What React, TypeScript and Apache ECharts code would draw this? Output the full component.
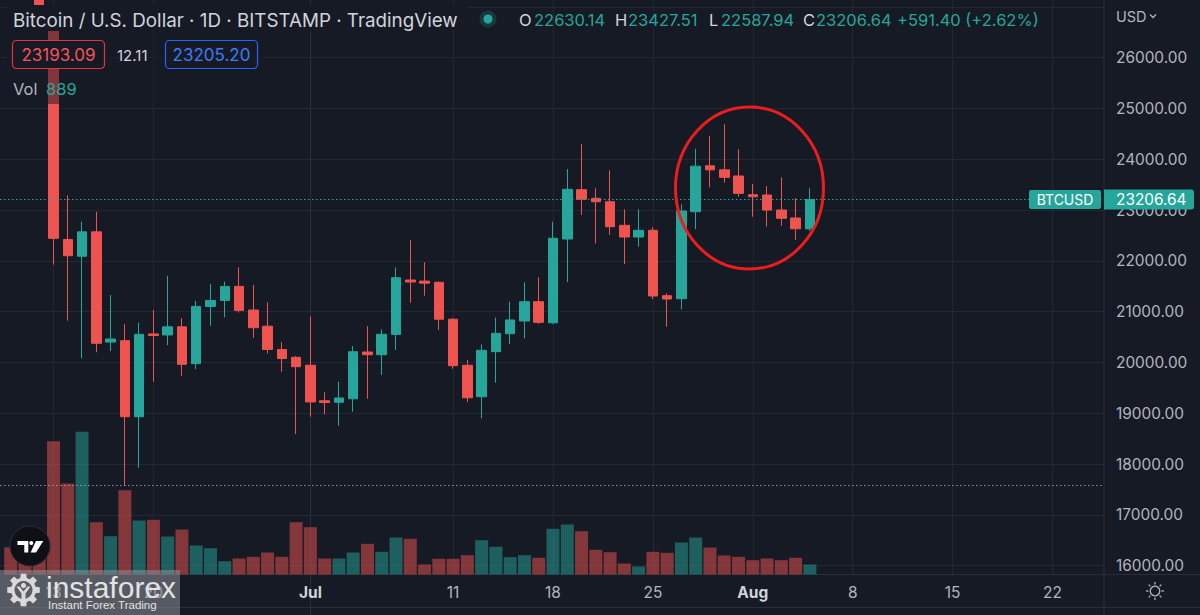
import React, { useEffect, useRef } from 'react';
import * as echarts from 'echarts';

const BG = '#161a25';
const GRID = '#232733';
const UP = '#26a69a';
const DOWN = '#ef5350';
const AXIS_TXT = '#b2b5be';
const FONT = 'Inter, Roboto, sans-serif';

// Daily BTC/USD candles (month-day, 2022)
const dates = [
  '06-10', '06-11', '06-12', '06-13', '06-14', '06-15', '06-16', '06-17', '06-18', '06-19',
  '06-20', '06-21', '06-22', '06-23', '06-24', '06-25', '06-26', '06-27', '06-28', '06-29',
  '06-30', '07-01', '07-02', '07-03', '07-04', '07-05', '07-06', '07-07', '07-08', '07-09',
  '07-10', '07-11', '07-12', '07-13', '07-14', '07-15', '07-16', '07-17', '07-18', '07-19',
  '07-20', '07-21', '07-22', '07-23', '07-24', '07-25', '07-26', '07-27', '07-28', '07-29',
  '07-30', '07-31', '08-01', '08-02', '08-03', '08-04', '08-05',
];
const opens = [
  30100, 29080, 28400, 26574, 22420, 22090, 22570, 20400, 20427, 18931,
  20560, 20540, 20700, 19975, 21100, 21220, 21496, 21031, 20713, 20254,
  20100, 19945, 19245, 19215, 19284, 20205, 20152, 20550, 21622, 21600,
  21577, 20850, 19943, 19325, 20211, 20565, 20815, 21195, 20780, 22429,
  23400, 23230, 23163, 22698, 22468, 22600, 21313, 21254, 22967, 23870,
  23790, 23669, 23300, 23295, 23000, 22843, 22630.14,
];
const closes = [
  29080, 28400, 26574, 22443, 22100, 22570, 20376, 20460, 18931, 20552,
  20530, 20700, 19962, 21103, 21220, 21496, 21024, 20683, 20254, 20077,
  19916, 19222, 19210, 19300, 20210, 20152, 20553, 21667, 21583, 21560,
  20850, 19935, 19303, 20238, 20572, 20835, 21195, 20789, 22443, 23407,
  23211, 23163, 22671, 22468, 22600, 21307, 21248, 22980, 23862, 23790,
  23643, 23328, 23260, 23000, 22837, 22630.14, 23206.64,
];
const lows = [
  28850, 28100, 26560, 21925, 20822, 20081, 20200, 20224, 17575, 17927,
  19620, 20339, 19738, 19870, 20722, 20888, 20980, 20486, 20175, 19816,
  18590, 18931, 18976, 18754, 19030, 19284, 19752, 20244, 21175, 21313,
  20638, 19876, 19222, 18899, 19600, 20362, 20474, 20756, 20756, 21580,
  22902, 22344, 22508, 21937, 22278, 21248, 20703, 21043, 22620, 23447,
  23537, 23261, 22868, 22672, 22691, 22410, 22587.94,
];
const highs = [
  30350, 29440, 28550, 26880, 23290, 22770, 22967, 21325, 20756, 20782,
  21031, 21707, 20867, 21212, 21543, 21590, 21872, 21524, 21181, 20396,
  20126, 20900, 19411, 19620, 20323, 20713, 20652, 21870, 22410, 21970,
  21590, 20870, 20047, 20356, 20880, 21195, 21577, 21679, 22770, 23807,
  24299, 23427, 23780, 23013, 23013, 22658, 21360, 23112, 24204, 24460,
  24690, 24195, 23512, 23467, 23643, 23236, 23427.51,
];
const volumes = [
  2427, 1334, 2667, 11850, 8090, 12686, 4650, 3405, 7494, 4801,
  4863, 3378, 4001, 2578, 2338, 1182, 1422, 1574, 1956, 1574,
  4650, 4205, 1422, 1422, 1956, 2729, 2018, 3289, 3174, 889,
  1396, 1396, 1716, 3049, 2463, 1538, 1716, 1485, 4063, 4445,
  3849, 2196, 1982, 978, 711, 2018, 1929, 2845, 3289, 2400,
  1689, 1574, 1271, 1422, 1271, 1485, 889,
];

const tickDates = ['06-13', '06-20', '07-01', '07-11', '07-18', '07-25', '08-01', '08-08', '08-15', '08-22'];
const tickLabels = ['13', '20', 'Jul', '11', '18', '25', 'Aug', '8', '15', '22'];

const dayOf = (md: string) => {
  const [m, d] = md.split('-').map(Number);
  return (Date.UTC(2022, m - 1, d) - Date.UTC(2022, 6, 1)) / 86400000;
};

const X_MIN = -21.75;
const X_MAX = 55.61;

function gearPoints(cx: number, cy: number, ro: number, ri: number, n: number) {
  const pts: number[][] = [];
  for (let k = 0; k < n; k++) {
    const a = (k * 2 * Math.PI) / n - Math.PI / 2;
    const d1 = 0.26;
    const d2 = 0.17;
    pts.push([cx + ri * Math.cos(a - d1), cy + ri * Math.sin(a - d1)]);
    pts.push([cx + ro * Math.cos(a - d2), cy + ro * Math.sin(a - d2)]);
    pts.push([cx + ro * Math.cos(a + d2), cy + ro * Math.sin(a + d2)]);
    pts.push([cx + ri * Math.cos(a + d1), cy + ri * Math.sin(a + d1)]);
  }
  return pts;
}

function sunRays(cx: number, cy: number) {
  const els: any[] = [];
  for (let k = 0; k < 8; k++) {
    const a = (k * Math.PI) / 4;
    els.push({
      type: 'line',
      z: 100,
      shape: {
        x1: cx + 6.5 * Math.cos(a), y1: cy + 6.5 * Math.sin(a),
        x2: cx + 9 * Math.cos(a), y2: cy + 9 * Math.sin(a),
      },
      style: { stroke: AXIS_TXT, lineWidth: 1.3 },
    });
  }
  return els;
}

const txt = (x: number, y: number, text: string, fill: string, size: number, extra: any = {}) => ({
  type: 'text',
  x,
  y,
  z: 102,
  style: { text, fill, fontSize: size, fontFamily: FONT, verticalAlign: 'middle', align: 'left', ...extra },
});

export default function App() {
  const ref = useRef<HTMLDivElement>(null);

  useEffect(() => {
    if (!ref.current) return;
    const chart = echarts.init(ref.current, undefined, { renderer: 'svg' });
    const tickDays = tickDates.map(dayOf);
    const lastClose = closes[closes.length - 1];
    const minLow = Math.min(...lows);

    const option: any = {
      animation: false,
      backgroundColor: BG,
      grid: [
        { left: 0, right: 96, top: -44, height: 660.4, containLabel: false, outerBoundsMode: 'none' },
        { left: 0, right: 96, top: 0, bottom: 40.5, containLabel: false, outerBoundsMode: 'none' },
      ],
      xAxis: [
        { type: 'value', gridIndex: 0, min: X_MIN, max: X_MAX, show: false, splitLine: { show: false } },
        {
          type: 'value',
          gridIndex: 1,
          min: X_MIN,
          max: X_MAX,
          position: 'bottom',
          axisLine: { show: true, lineStyle: { color: '#2a2e39', width: 1 } },
          axisTick: { show: false, customValues: tickDays },
          splitLine: { show: true, lineStyle: { color: GRID, width: 1 } },
          axisLabel: {
            customValues: tickDays,
            margin: 10,
            color: AXIS_TXT,
            fontSize: 15.5,
            fontFamily: FONT,
            formatter: (v: number) => {
              const i = tickDays.findIndex((t) => Math.abs(t - v) < 0.01);
              const s = i >= 0 ? tickLabels[i] : '';
              return s === 'Jul' || s === 'Aug' ? `{b|${s}}` : s;
            },
            rich: { b: { fontWeight: 'bold', color: '#d1d4dc', fontSize: 15.5, fontFamily: FONT } },
          },
        },
      ],
      yAxis: [
        {
          type: 'value',
          gridIndex: 0,
          position: 'right',
          min: 15000,
          max: 28000,
          interval: 1000,
          axisLine: { show: true, lineStyle: { color: '#2a2e39', width: 1 } },
          axisTick: { show: false },
          splitLine: { show: true, lineStyle: { color: GRID, width: 1 } },
          axisLabel: {
            margin: 12,
            color: AXIS_TXT,
            fontSize: 15.4,
            fontFamily: FONT,
            formatter: (v: number) => (v >= 16000 && v <= 26000 ? v.toFixed(2) : ''),
          },
        },
        { type: 'value', gridIndex: 1, min: 0, max: 51073, show: false, splitLine: { show: false } },
      ],
      series: [
        {
          type: 'bar',
          name: 'Vol',
          xAxisIndex: 1,
          yAxisIndex: 1,
          barWidth: 13,
          silent: true,
          data: dates.map((d, i) => ({
            value: [dayOf(d), volumes[i]],
            itemStyle: { color: closes[i] >= opens[i] ? 'rgba(38,166,154,0.5)' : 'rgba(239,83,80,0.5)' },
          })),
        },
        {
          type: 'candlestick',
          name: 'BTCUSD',
          xAxisIndex: 0,
          yAxisIndex: 0,
          barWidth: 10,
          encode: { x: 0, y: [1, 2, 3, 4] },
          itemStyle: { color: UP, color0: DOWN, borderColor: UP, borderColor0: DOWN, borderWidth: 1 },
          data: dates.map((d, i) => [dayOf(d), opens[i], closes[i], lows[i], highs[i]]),
          markLine: {
            symbol: 'none',
            silent: true,
            label: { show: false },
            data: [
              { yAxis: lastClose, lineStyle: { color: UP, type: [1.5, 2.5], width: 1 } },
              { yAxis: minLow, lineStyle: { color: 'rgba(178,181,190,0.75)', type: [1.5, 2.5], width: 1 } },
            ],
          },
        },
      ],
      graphic: [
        // legend backgrounds
        { type: 'rect', z: 100, shape: { x: 6, y: 5, width: 462, height: 26 }, style: { fill: BG } },
        { type: 'rect', z: 100, shape: { x: 6, y: 31, width: 258, height: 73 }, style: { fill: 'rgba(22,26,37,0.5)' } },
        txt(13, 20, 'Bitcoin / U.S. Dollar · 1D · BITSTAMP · TradingView', '#d1d4dc', 18.8),
        { type: 'circle', z: 101, shape: { cx: 488, cy: 19, r: 8.5 }, style: { fill: 'rgba(38,166,154,0.22)' } },
        { type: 'circle', z: 102, shape: { cx: 488, cy: 19, r: 4.5 }, style: { fill: UP } },
        txt(519, 20, 'O', '#d1d4dc', 16.5),
        txt(534, 20, '22630.14', UP, 16.5),
        txt(615, 20, 'H', '#d1d4dc', 16.5),
        txt(628, 20, '23427.51', UP, 16.5),
        txt(709, 20, 'L', '#d1d4dc', 16.5),
        txt(721, 20, '22587.94', UP, 16.5),
        txt(803, 20, 'C', '#d1d4dc', 16.5),
        txt(816, 20, '23206.64', UP, 16.5),
        txt(897, 20, '+591.40 (+2.62%)', UP, 16.5),
        // bid / ask boxes
        { type: 'rect', z: 101, shape: { x: 12.5, y: 40.5, width: 92, height: 28, r: 4 }, style: { fill: BG, stroke: '#e8323f', lineWidth: 1.2 } },
        txt(58.5, 55, '23193.09', '#f7525f', 17, { align: 'center' }),
        txt(117, 55, '12.11', '#d1d4dc', 15),
        { type: 'rect', z: 101, shape: { x: 165.5, y: 40.5, width: 92, height: 28, r: 4 }, style: { fill: BG, stroke: '#2962ff', lineWidth: 1.2 } },
        txt(211.5, 55, '23205.20', '#3d7bf7', 17, { align: 'center' }),
        txt(13, 89, 'Vol', '#b2b5be', 16.5),
        txt(46, 89, '889', UP, 16.5),
        // USD selector
        txt(1116, 16, 'USD', AXIS_TXT, 14.5),
        { type: 'polyline', z: 102, shape: { points: [[1150, 14.5], [1153, 17.5], [1156, 14.5]] }, style: { stroke: AXIS_TXT, lineWidth: 1.3, fill: 'none' } },
        // highlight ellipse
        { type: 'ellipse', z: 103, shape: { cx: 749.5, cy: 188, rx: 74, ry: 81 }, style: { fill: 'none', stroke: '#ee1d1d', lineWidth: 3 } },
        // price labels
        { type: 'rect', z: 101, shape: { x: 1029, y: 190, width: 72, height: 19, r: 2 }, style: { fill: UP } },
        txt(1065, 199.5, 'BTCUSD', '#ffffff', 14, { align: 'center' }),
        { type: 'rect', z: 101, shape: { x: 1104, y: 189.5, width: 90, height: 20, r: [0, 3, 3, 0] }, style: { fill: UP } },
        txt(1116, 199.5, '23206.64', '#ffffff', 15.4),
        // bottom lines
        { type: 'line', z: 99, shape: { x1: 1104, y1: 574.5, x2: 1200, y2: 574.5 }, style: { stroke: '#2a2e39', lineWidth: 1 } },
        { type: 'line', z: 99, shape: { x1: 0, y1: 607.5, x2: 1200, y2: 607.5 }, style: { stroke: '#2a2e39', lineWidth: 1 } },
        { type: 'line', z: 99, shape: { x1: 1104, y1: 0, x2: 1104, y2: 615 }, style: { stroke: '#2a2e39', lineWidth: 1 } },
        // settings icon
        { type: 'circle', z: 100, shape: { cx: 1155, cy: 591, r: 4.8 }, style: { fill: 'none', stroke: AXIS_TXT, lineWidth: 1.3 } },
        ...sunRays(1155, 591),
        // TradingView logo
        { type: 'circle', z: 100, shape: { cx: 30, cy: 546, r: 20 }, style: { fill: '#0e1015', stroke: '#2a2e39', lineWidth: 1 } },
        { type: 'polygon', z: 101, shape: { points: [[17.5, 541], [28.3, 541], [28.3, 552.5], [24.3, 552.5], [24.3, 545], [17.5, 545]] }, style: { fill: '#ffffff' } },
        { type: 'circle', z: 101, shape: { cx: 31.3, cy: 543, r: 2 }, style: { fill: '#ffffff' } },
        { type: 'polygon', z: 101, shape: { points: [[36, 541], [43.3, 541], [36, 552.5], [30.6, 552.5]] }, style: { fill: '#ffffff' } },
        // instaforex watermark
        { type: 'rect', z: 104, shape: { x: 0, y: 570, width: 180, height: 45 }, style: { fill: 'rgba(140,143,150,0.55)' } },
        { type: 'polygon', z: 105, shape: { points: gearPoints(23.5, 590, 16.5, 12.5, 8) }, style: { fill: '#d9d9d9' } },
        { type: 'circle', z: 106, shape: { cx: 23.5, cy: 590, r: 9 }, style: { fill: '#5a5d63' } },
        { type: 'circle', z: 107, shape: { cx: 23.5, cy: 585.5, r: 2.6 }, style: { fill: '#d9d9d9' } },
        {
          type: 'polygon', z: 107,
          shape: { points: [[16.5, 586.5], [19.5, 586.5], [23.5, 591.5], [27.5, 586.5], [30.5, 586.5], [25.5, 593.5], [25.5, 601], [21.5, 601], [21.5, 593.5]] },
          style: { fill: '#d9d9d9' },
        },
        { type: 'text', z: 107, x: 46, y: 587.6, style: { text: 'instaforex', fill: '#e2e2e2', fontSize: 30, fontFamily: '"Liberation Sans", Arial, sans-serif', verticalAlign: 'middle', align: 'left' } },
        { type: 'text', z: 107, x: 48, y: 604.5, style: { text: 'Instant Forex Trading', fill: '#e2e2e2', fontSize: 11.5, fontFamily: '"Liberation Sans", Arial, sans-serif', verticalAlign: 'middle', align: 'left' } },
      ],
    };

    chart.setOption(option);
    return () => chart.dispose();
  }, []);

  return <div ref={ref} style={{ position: 'fixed', left: 0, top: 0, width: 1200, height: 615, background: BG }} />;
}
